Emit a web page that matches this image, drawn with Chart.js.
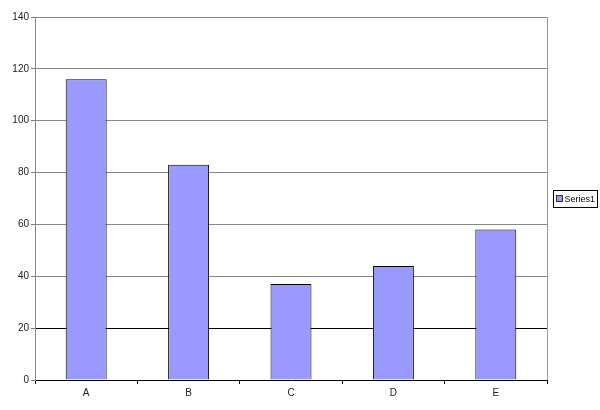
<!DOCTYPE html>
<html>
<head>
<meta charset="utf-8">
<script src="https://cdn.jsdelivr.net/npm/chart.js@4/dist/chart.umd.min.js"></script>
<style>
  html, body { margin: 0; padding: 0; background: #fff; }
  #wrap { width: 600px; height: 410px; }
</style>
</head>
<body>
<div id="wrap"><canvas id="chart" width="600" height="410"></canvas></div>
<script>
const categories = ['A', 'B', 'C', 'D', 'E'];
const series1 = [116, 83, 37, 44, 58];
const yTicks = [0, 20, 40, 60, 80, 100, 120, 140];

// frame on the right side of the plot and the legend box
const framePlugin = {
    id: 'frame',
    afterDraw(chart) {
        const { ctx, chartArea } = chart;
        ctx.save();
        ctx.strokeStyle = '#999';
        ctx.lineWidth = 1;
        ctx.beginPath();
        ctx.moveTo(Math.round(chartArea.right) + 0.5, chartArea.top);
        ctx.lineTo(Math.round(chartArea.right) + 0.5, chartArea.bottom);
        ctx.stroke();

        // legend
        const ds = chart.data.datasets[0];
        const x = 553.5, y = 190.5, w = 44, h = 17;
        ctx.fillStyle = '#fff';
        ctx.fillRect(x, y, w, h);
        ctx.strokeStyle = '#000';
        ctx.strokeRect(x, y, w, h);
        ctx.fillStyle = ds.backgroundColor;
        ctx.fillRect(x + 3, y + 5, 6, 6);
        ctx.strokeStyle = '#333';
        ctx.strokeRect(x + 3, y + 5, 6, 6);
        ctx.fillStyle = '#000';
        ctx.font = '9px "Liberation Sans", Arial, sans-serif';
        ctx.textBaseline = 'middle';
        ctx.fillText(ds.label, x + 11, y + h / 2 + 0.5);
        ctx.restore();
    }
};

new Chart(document.getElementById('chart').getContext('2d'), {
    type: 'bar',
    data: {
        labels: categories,
        datasets: [{
            label: 'Series1',
            data: series1,
            backgroundColor: '#9999ff',
            borderColor: '#000',
            borderWidth: 1,
            categoryPercentage: 1,
            barPercentage: 0.4
        }]
    },
    options: {
        responsive: false,
        animation: false,
        layout: { padding: { top: 17, right: 53, left: 0, bottom: 0 } },
        plugins: {
            legend: { display: false },
            tooltip: { enabled: false }
        },
        scales: {
            x: {
                offset: true,
                grid: {
                    offset: true,
                    drawOnChartArea: false,
                    drawTicks: true,
                    tickLength: 4,
                    color: '#000'
                },
                border: { color: '#000' },
                ticks: {
                    color: '#222',
                    font: { family: '"Liberation Sans", Arial, sans-serif', size: 10 },
                    padding: 3
                },
                afterFit(scale) { scale.height = 30; }
            },
            y: {
                min: 0,
                max: 140,
                afterBuildTicks(scale) {
                    scale.ticks = yTicks.map(v => ({ value: v }));
                },
                grid: {
                    color: ctx => ctx.tick && ctx.tick.value === 20 ? '#000' : '#888',
                    tickColor: '#777',
                    tickLength: 4
                },
                border: { color: '#888' },
                ticks: {
                    color: '#222',
                    font: { family: '"Liberation Sans", Arial, sans-serif', size: 10 },
                    padding: 2
                },
                afterFit(scale) { scale.width = 35; }
            }
        }
    },
    plugins: [framePlugin]
});
</script>
</body>
</html>
